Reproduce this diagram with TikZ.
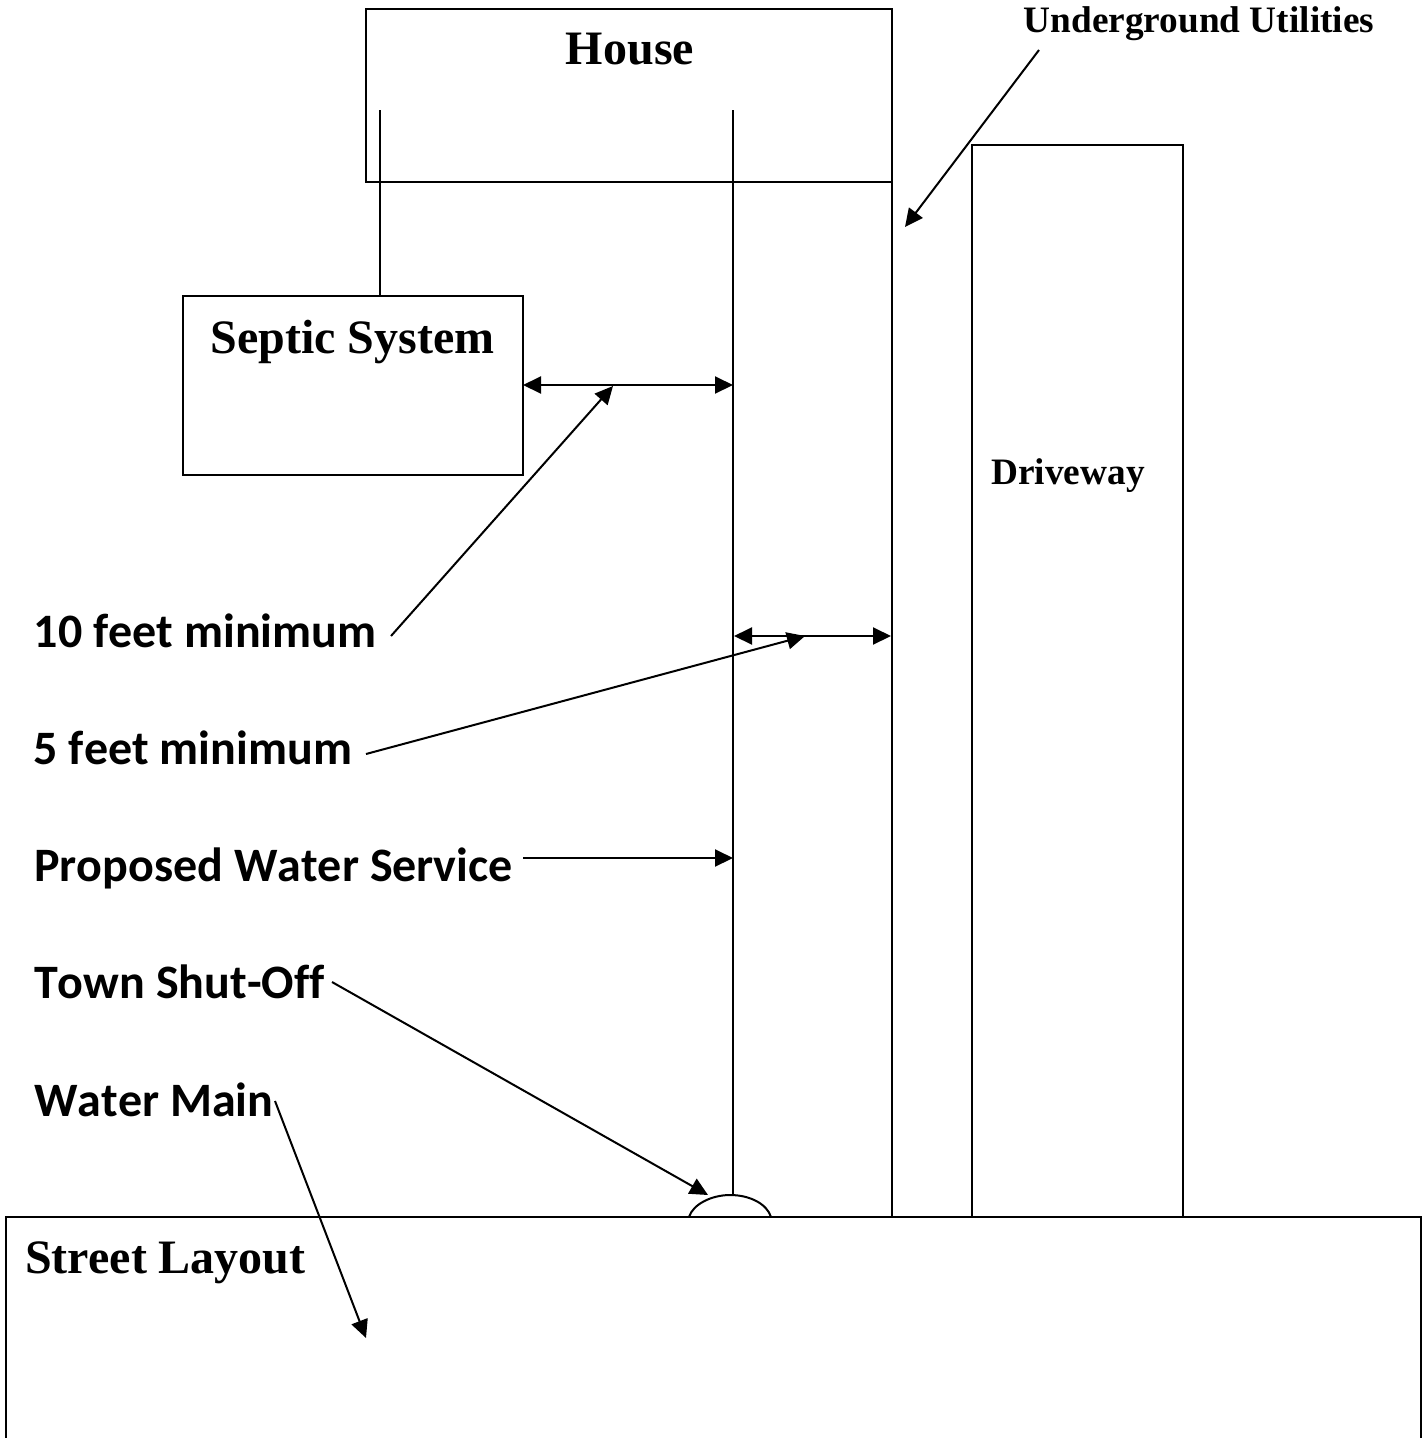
\documentclass[tikz,border=0pt]{standalone}
\usepackage{fontspec}
\setmainfont{Liberation Serif}
\newfontfamily\labelfont[Ligatures=NoCommon,Kerning=Off]{Carlito}
\usetikzlibrary{arrows.meta}
\tikzset{
 px/.style={x=1pt,y=-1pt},
 ln/.style={draw=black,line width=2pt},
 arr/.style={ln,-{Triangle[length=18pt,width=17pt]}},
 darr/.style={ln,{Triangle[length=18pt,width=17pt]}-{Triangle[length=18pt,width=17pt]}},
 lab/.style={font=\labelfont\bfseries\fontsize{48}{52}\selectfont,anchor=base west,inner sep=0pt},
 serbig/.style={font=\bfseries\fontsize{48}{52}\selectfont,inner sep=0pt,anchor=base},
 sersmall/.style={font=\bfseries\fontsize{37.3}{42}\selectfont,inner sep=0pt,anchor=base},
}
\begin{document}
\begin{tikzpicture}[px]
\useasboundingbox (0,0) rectangle (1422,1438);
\fill[white] (0,0) rectangle (1422,1438);
\coordinate (hA) at (380,110); \coordinate (hB) at (380,296);
\coordinate (wA) at (733,110); \coordinate (wB) at (733,1196);
\coordinate (uA) at (892,110); \coordinate (uB) at (892,1217);
\draw[ln] (365.5,8.5) rectangle (892,182);
\draw[ln] (183,296) rectangle (522.5,474.5);
\draw[ln] (972,144.5) rectangle (1182.5,1217);
\draw[ln] (5.5,1438) -- (5.5,1217) -- (1421,1217) -- (1421,1438);
\draw[ln] (hA) -- (hB);
\draw[ln] (wA) -- (wB);
\draw[ln] (uA) -- (uB);
\draw[ln] (689,1217) .. controls (693,1204) and (712,1195) .. (730,1195) .. controls (750,1195) and (767,1204) .. (771,1217);
\node[serbig] (house) at (630,64) {House};
\node[serbig] (septic) at (352.5,353) {Septic System};
\node[sersmall] (drive) at (1068,484) {Driveway};
\node[sersmall] (under) at (1199,32) {Underground Utilities};
\node[serbig] (street) at (165.5,1273) {Street Layout};
\node[lab] (l10) at (33.5,647) {10 feet minimum};
\node[lab] (l5) at (33.5,764) {5 feet minimum};
\node[lab] (lw) at (34,881) {Proposed Water Service};
\node[lab] (lt) at (34,998) {Town Shut-Off};
\node[lab] (lm) at (34,1116) {Water Main};
\coordinate (a1) at (1039,50); \coordinate (a2) at (905,227);
\draw[arr] (a1) -- (a2);
\coordinate (b1) at (523,385); \coordinate (b2) at (733,385);
\draw[darr] (b1) -- (b2);
\coordinate (c1) at (391,636); \coordinate (c2) at (613,386);
\draw[arr] (c1) -- (c2);
\coordinate (d1) at (734,636); \coordinate (d2) at (891,636);
\draw[darr] (d1) -- (d2);
\coordinate (e1) at (366,754); \coordinate (e2) at (805,636);
\draw[arr] (e1) -- (e2);
\coordinate (f1) at (523,858);
\draw[arr] (f1) -- (wA |- f1);
\coordinate (g1) at (332,982); \coordinate (g2) at (708,1195);
\draw[arr] (g1) -- (g2);
\coordinate (h1) at (275,1101); \coordinate (h2) at (366,1338);
\draw[arr] (h1) -- (h2);
\end{tikzpicture}
\end{document}
